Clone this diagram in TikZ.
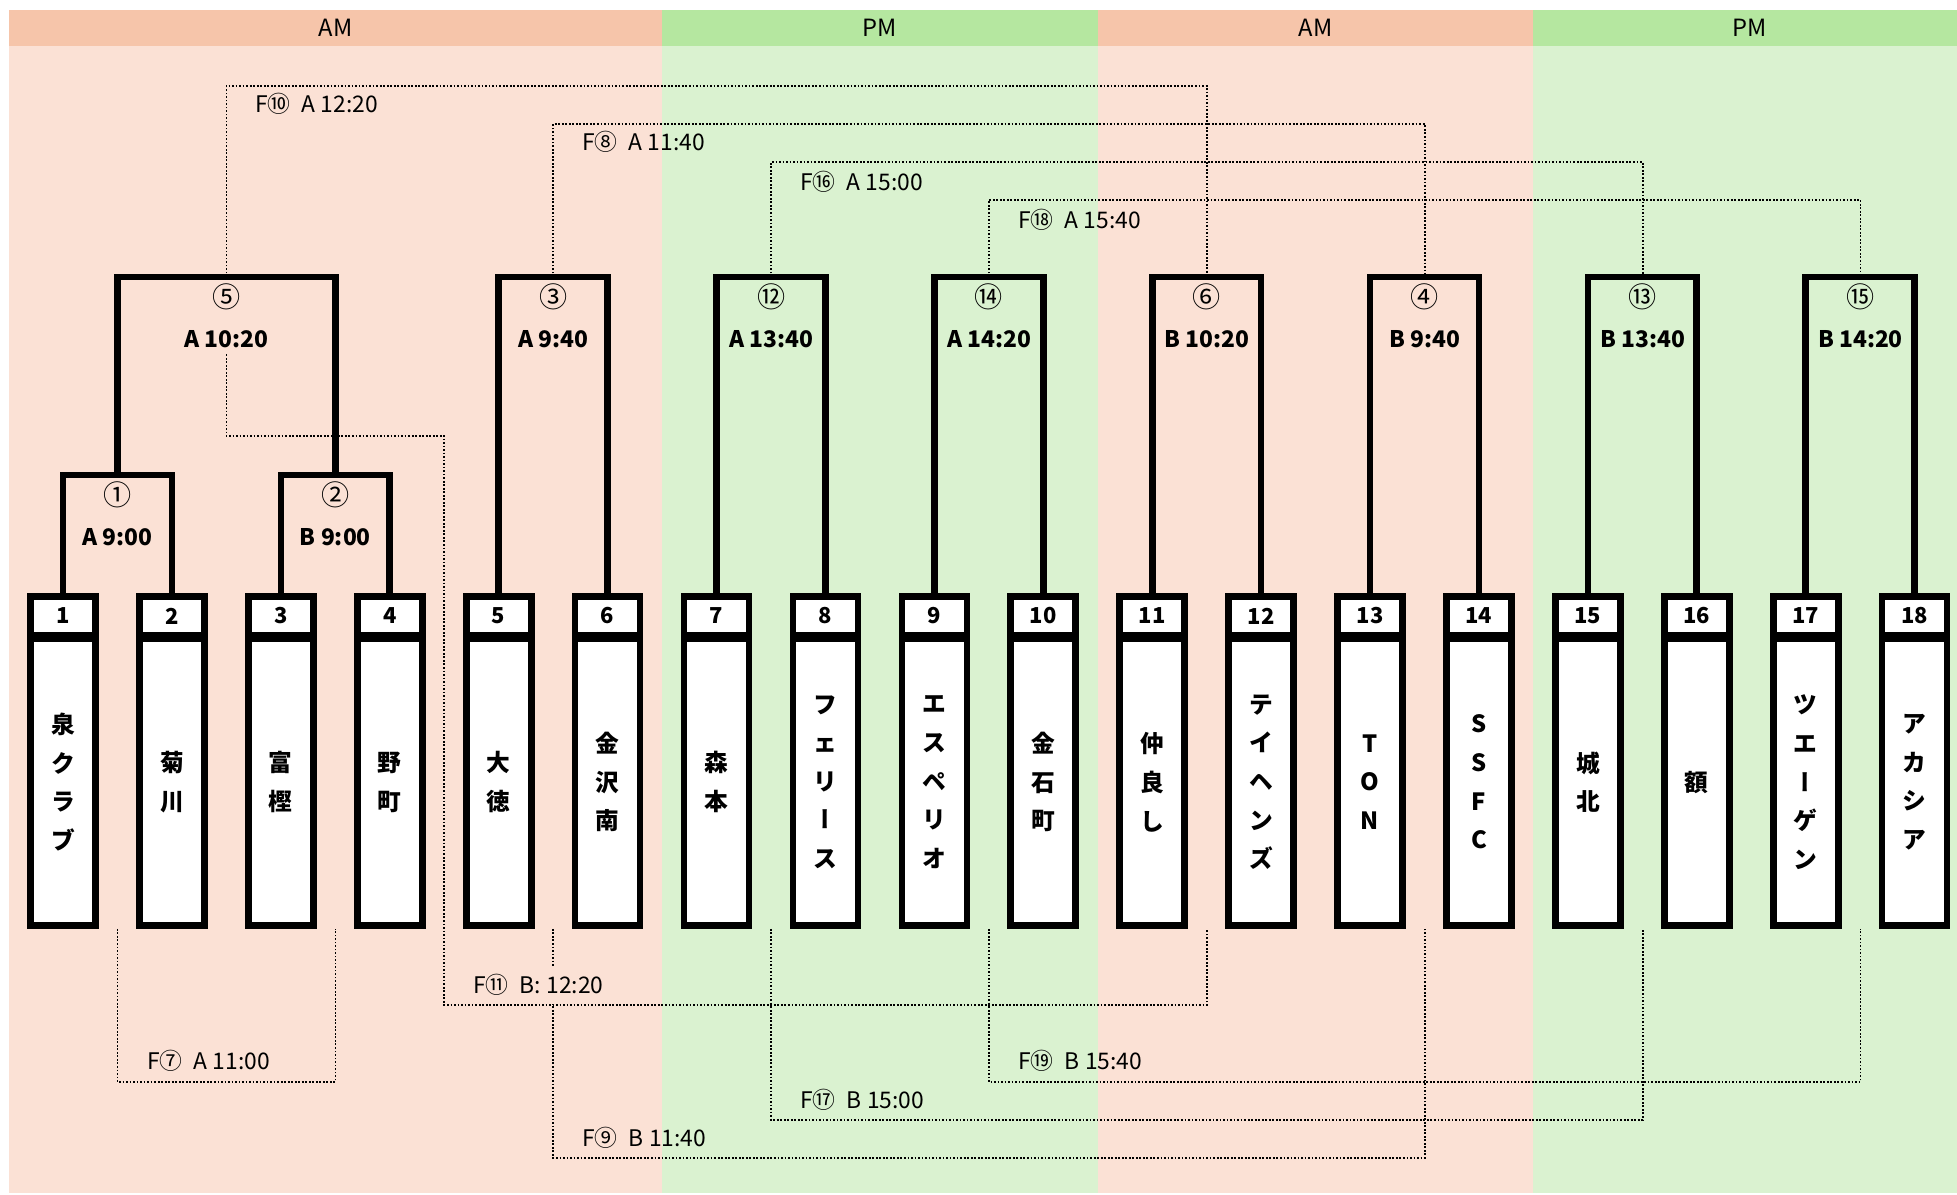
\documentclass[tikz,border=0pt]{standalone}
\usepackage{fontspec}
\setmainfont{Noto Sans CJK JP}
\usepackage{tikz}
\usetikzlibrary{positioning}
\definecolor{amhead}{HTML}{F6C5AA}
\definecolor{amback}{HTML}{FBE1D5}
\definecolor{pmhead}{HTML}{B5E7A0}
\definecolor{pmback}{HTML}{DAF2D0}
\newcommand{\chouon}{{\addfontfeature{RawFeature=+vert}ー}}
\newcommand{\maru}[1]{{\fontsize{16}{22.8}\selectfont\mdseries #1}}
\tikzstyle{numbox} = [rectangle, minimum width=1.3cm, minimum height=0.78cm, inner sep=0pt, draw=black, fill=white, line width=3.8pt, font=\fontsize{12.5}{15}\selectfont\bfseries]
\tikzstyle{teambox} = [rectangle, minimum width=1.3cm, minimum height=5.74cm, inner sep=0pt, align=center, draw=black, fill=white, line width=3.8pt, font=\fontsize{13.5}{22}\selectfont\bfseries]
\tikzstyle{matchlabel} = [align=center, font=\fontsize{13}{22.8}\selectfont\bfseries]
\tikzstyle{bracket} = [line width=3.8pt]
\tikzstyle{finalline} = [line width=1pt, densely dotted]
\tikzstyle{finaltext} = [anchor=west, inner sep=1pt, font=\fontsize{13}{15}\selectfont]
\tikzstyle{halftext} = [font=\fontsize{13.5}{15}\selectfont]

\begin{document}
\begin{tikzpicture}[x=0.02cm, y=-0.02cm, node distance=2.1788cm]
        \useasboundingbox (0,0) rectangle (1957,1194);
        % AM / PM columns
        \fill [amback] (9,10) rectangle (662,1193);
        \fill [pmback] (662,10) rectangle (1098,1193);
        \fill [amback] (1098,10) rectangle (1533,1193);
        \fill [pmback] (1533,10) rectangle (1957,1193);
        \fill [amhead] (9,10) rectangle (662,46);
        \fill [pmhead] (662,10) rectangle (1098,46);
        \fill [amhead] (1098,10) rectangle (1533,46);
        \fill [pmhead] (1533,10) rectangle (1957,46);
        \node (am1) [halftext] at (335.5,28) {AM};
        \node (pm1) [halftext] at (880,28) {PM};
        \node (am2) [halftext] at (1315.5,28) {AM};
        \node (pm2) [halftext] at (1750,28) {PM};

        % teams
        \node (n1) [numbox] at (63,616) {1};
        \node (n2) [numbox, right of=n1] {2};
        \node (n3) [numbox, right of=n2] {3};
        \node (n4) [numbox, right of=n3] {4};
        \node (n5) [numbox, right of=n4] {5};
        \node (n6) [numbox, right of=n5] {6};
        \node (n7) [numbox, right of=n6] {7};
        \node (n8) [numbox, right of=n7] {8};
        \node (n9) [numbox, right of=n8] {9};
        \node (n10) [numbox, right of=n9] {10};
        \node (n11) [numbox, right of=n10] {11};
        \node (n12) [numbox, right of=n11] {12};
        \node (n13) [numbox, right of=n12] {13};
        \node (n14) [numbox, right of=n13] {14};
        \node (n15) [numbox, right of=n14] {15};
        \node (n16) [numbox, right of=n15] {16};
        \node (n17) [numbox, right of=n16] {17};
        \node (n18) [numbox, right of=n17] {18};

        \node (t1) [teambox, below=-2pt of n1] {泉\\ク\\ラ\\ブ};
        \node (t2) [teambox, below=-2pt of n2] {菊\\川};
        \node (t3) [teambox, below=-2pt of n3] {富\\樫};
        \node (t4) [teambox, below=-2pt of n4] {野\\町};
        \node (t5) [teambox, below=-2pt of n5] {大\\徳};
        \node (t6) [teambox, below=-2pt of n6] {金\\沢\\南};
        \node (t7) [teambox, below=-2pt of n7] {森\\本};
        \node (t8) [teambox, below=-2pt of n8] {フ\\ェ\\リ\\\chouon\\ス};
        \node (t9) [teambox, below=-2pt of n9] {エ\\ス\\ペ\\リ\\オ};
        \node (t10) [teambox, below=-2pt of n10] {金\\石\\町};
        \node (t11) [teambox, below=-2pt of n11] {仲\\良\\し};
        \node (t12) [teambox, below=-2pt of n12] {テ\\イ\\ヘ\\ン\\ズ};
        \node (t13) [teambox, below=-2pt of n13] {T\\O\\N};
        \node (t14) [teambox, below=-2pt of n14] {S\\S\\F\\C};
        \node (t15) [teambox, below=-2pt of n15] {城\\北};
        \node (t16) [teambox, below=-2pt of n16] {額};
        \node (t17) [teambox, below=-2pt of n17] {ツ\\エ\\\chouon\\ゲ\\ン};
        \node (t18) [teambox, below=-2pt of n18] {ア\\カ\\シ\\ア};

        % match brackets
        \coordinate (b1) at (117.5,475);
        \coordinate (b2) at (335.4,475);
        \coordinate (b5) at (226.4,277);
        \coordinate (b3) at (553.2,277);
        \coordinate (b12) at (771.1,277);
        \coordinate (b14) at (989,277);
        \coordinate (b6) at (1206.9,277);
        \coordinate (b4) at (1424.8,277);
        \coordinate (b13) at (1642.6,277);
        \coordinate (b15) at (1860.5,277);
        \coordinate (k11) at (444.3,436);

        % final lines
        \draw [finalline] (b5) -- ++(0,-191) -| (b6);
        \draw [finalline] (b3) -- ++(0,-153) -| (b4);
        \draw [finalline] (b12) -- ++(0,-115) -| (b13);
        \draw [finalline] (b14) -- ++(0,-77) -| (b15);
        \draw [finalline] (b1 |- t1.south) -- ++(0,153) -| (b2 |- t1.south);
        \draw [finalline] (b3 |- t1.south) -- ++(0,229) -| (b4 |- t1.south);
        \draw [finalline] (b12 |- t1.south) -- ++(0,191) -| (b13 |- t1.south);
        \draw [finalline] (b14 |- t1.south) -- ++(0,153) -| (b15 |- t1.south);

        \draw [bracket] (n1.north) |- (b1) -| (n2.north);
        \draw [bracket] (n3.north) |- (b2) -| (n4.north);
        \draw [bracket] (b1) |- (b5) -| (b2);
        \draw [bracket] (n5.north) |- (b3) -| (n6.north);
        \draw [bracket] (n7.north) |- (b12) -| (n8.north);
        \draw [bracket] (n9.north) |- (b14) -| (n10.north);
        \draw [bracket] (n11.north) |- (b6) -| (n12.north);
        \draw [bracket] (n13.north) |- (b4) -| (n14.north);
        \draw [bracket] (n15.north) |- (b13) -| (n16.north);
        \draw [bracket] (n17.north) |- (b15) -| (n18.north);

        \node (m1) [matchlabel] at (117.5,514) {\maru{①}\\A 9:00};
        \node (m2) [matchlabel] at (335.4,514) {\maru{②}\\B 9:00};
        \node (m5) [matchlabel] at (226.4,316) {\maru{⑤}\\A 10:20};
        \node (m3) [matchlabel] at (553.2,316) {\maru{③}\\A 9:40};
        \node (m12) [matchlabel] at (771.1,316) {\maru{⑫}\\A 13:40};
        \node (m14) [matchlabel] at (989,316) {\maru{⑭}\\A 14:20};
        \node (m6) [matchlabel] at (1206.9,316) {\maru{⑥}\\B 10:20};
        \node (m4) [matchlabel] at (1424.8,316) {\maru{④}\\B 9:40};
        \node (m13) [matchlabel] at (1642.6,316) {\maru{⑬}\\B 13:40};
        \node (m15) [matchlabel] at (1860.5,316) {\maru{⑮}\\B 14:20};

        \node (f10) [finaltext] at (253,104) {F⑩\enspace A 12:20};
        \node (f8) [finaltext] at (580,142) {F⑧\enspace A 11:40};
        \node (f16) [finaltext] at (798,182) {F⑯\enspace A 15:00};
        \node (f18) [finaltext] at (1016,220) {F⑱\enspace A 15:40};
        \node (f7) [finaltext] at (145,1061) {F⑦\enspace A 11:00};
        \node (f11) [finaltext, fill=amback, inner ysep=5pt] at (471,985) {F⑪\enspace B: 12:20};
        \node (f9) [finaltext] at (580,1138) {F⑨\enspace B 11:40};
        \node (f17) [finaltext] at (798,1100) {F⑰\enspace B 15:00};
        \node (f19) [finaltext] at (1016,1061) {F⑲\enspace B 15:40};

        \draw [finalline] (m5.south) |- (k11) -- ++(0,569) -| (b6 |- t1.south);
    \end{tikzpicture}
\end{document}
